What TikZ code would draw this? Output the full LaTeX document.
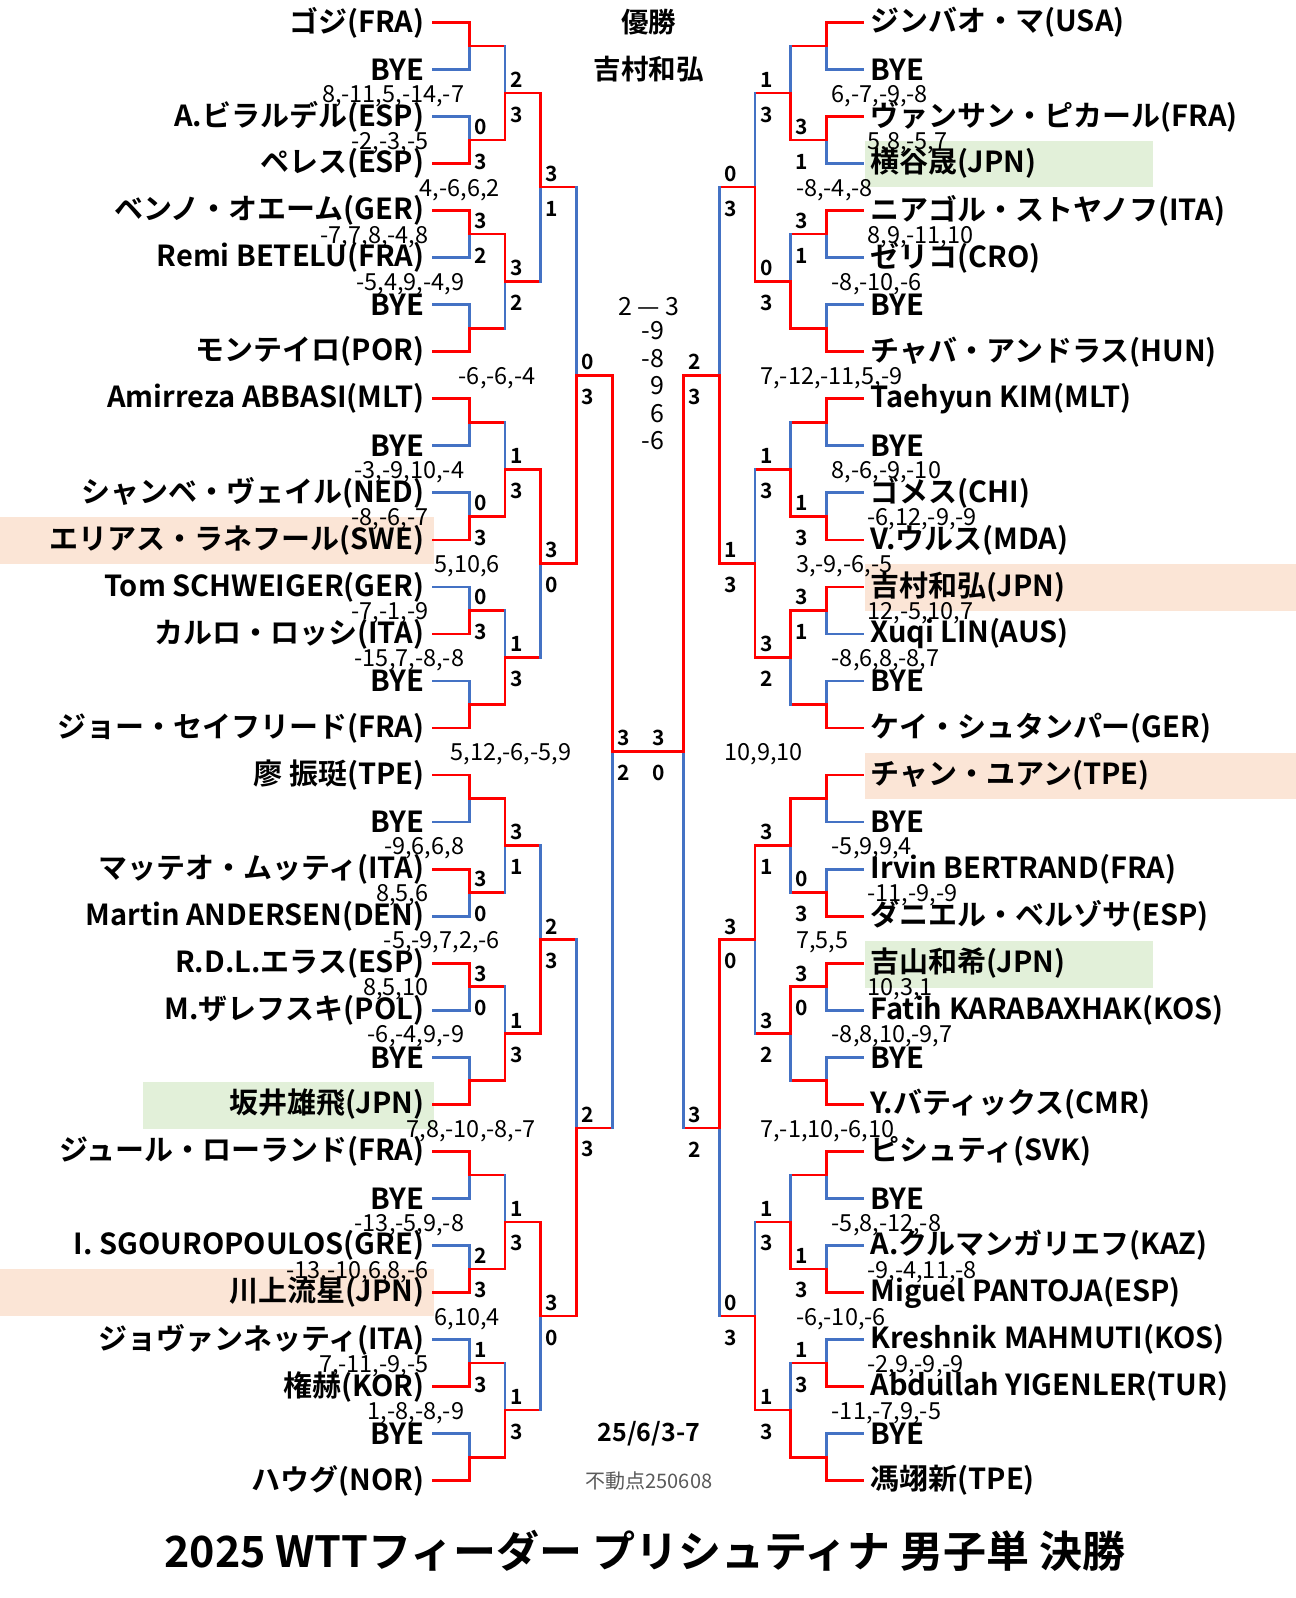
\documentclass[tikz,border=0pt]{standalone}
\usepackage{fontspec}
\setmainfont{Noto Sans CJK JP}[BoldFont={Noto Sans CJK JP Bold}]
\usetikzlibrary{calc}

\definecolor{winred}{HTML}{FF0000}
\definecolor{loseblue}{HTML}{4472C4}
\definecolor{hlorange}{HTML}{FBE5D6}
\definecolor{hlgreen}{HTML}{E2F0D9}

\tikzset{
  win/.style={draw=winred, line width=2.7pt, line cap=rect},
  lose/.style={draw=loseblue, line width=2.7pt, line cap=rect},
  lname/.style={anchor=east, inner sep=0pt, font=\bfseries\fontsize{29}{29}\selectfont},
  rname/.style={anchor=west, inner sep=0pt, font=\bfseries\fontsize{29}{29}\selectfont},
  setno/.style={inner sep=0pt, font=\bfseries\fontsize{21}{21}\selectfont},
  games/.style={inner sep=0pt, font=\fontsize{23.5}{23.5}\selectfont},
}

% one match: side, round, index, winner (0 = upper, 1 = lower)
\newcommand{\drawmatch}[4]{%
  \pgfmathtruncatemacro\pr{#2-1}%
  \ifnum#4=0
    \pgfmathtruncatemacro\cw{2*#3}\pgfmathtruncatemacro\cl{2*#3+1}%
  \else
    \pgfmathtruncatemacro\cw{2*#3+1}\pgfmathtruncatemacro\cl{2*#3}%
  \fi
  \ifnum#2=1
    \draw[lose] (#1\pr-\cl) -| (#1#2-#3);
  \else
    \draw[win] (#1\pr-\cl) -- (#1\pr-\cl -| #1#2-#3);
    \draw[lose] (#1\pr-\cl -| #1#2-#3) -- (#1#2-#3);
  \fi
  \draw[win] (#1\pr-\cw) -| (#1#2-#3);
}

\begin{document}
\begin{tikzpicture}[x=1.0204pt,y=-1.0204pt]
\useasboundingbox (0,0) rectangle (1270.1,1566.1);

% highlighted players
\fill[hlorange] (0,507) rectangle (425,553);
\fill[hlorange] (0,1244) rectangle (425,1290);
\fill[hlgreen] (140,1060) rectangle (425,1106);
\fill[hlgreen] (848,138) rectangle (1130,183);
\fill[hlorange] (848,553) rectangle (1270.1,599);
\fill[hlorange] (848,738) rectangle (1270.1,783);
\fill[hlgreen] (848,922) rectangle (1130,968);

% players
\foreach \n [count=\i from 0] in {ゴジ(FRA),BYE,A.ビラルデル(ESP),ペレス(ESP),
  ベンノ・オエーム(GER),Remi BETELU(FRA),BYE,モンテイロ(POR),
  Amirreza ABBASI(MLT),BYE,シャンベ・ヴェイル(NED),エリアス・ラネフール(SWE),
  Tom SCHWEIGER(GER),カルロ・ロッシ(ITA),BYE,ジョー・セイフリード(FRA),
  廖 振珽(TPE),BYE,マッテオ・ムッティ(ITA),Martin ANDERSEN(DEN),
  R.D.L.エラス(ESP),M.ザレフスキ(POL),BYE,坂井雄飛(JPN),
  ジュール・ローランド(FRA),BYE,I. SGOUROPOULOS(GRE),川上流星(JPN),
  ジョヴァンネッティ(ITA),権赫(KOR),BYE,ハウグ(NOR)}{
  \node[lname] (lp\i) at (416,{22+46.1*\i}) {\n};
  \coordinate (l0-\i) at ([xshift=9pt]lp\i.east);
}
\foreach \n [count=\i from 0] in {ジンバオ・マ(USA),BYE,ヴァンサン・ピカール(FRA),横谷晟(JPN),
  ニアゴル・ストヤノフ(ITA),ゼリコ(CRO),BYE,チャバ・アンドラス(HUN),
  Taehyun KIM(MLT),BYE,ゴメス(CHI),V.ウルス(MDA),
  吉村和弘(JPN),Xuqi LIN(AUS),BYE,ケイ・シュタンパー(GER),
  チャン・ユアン(TPE),BYE,Irvin BERTRAND(FRA),ダニエル・ベルゾサ(ESP),
  吉山和希(JPN),Fatih KARABAXHAK(KOS),BYE,Y.バティックス(CMR),
  ピシュティ(SVK),BYE,A.クルマンガリエフ(KAZ),Miguel PANTOJA(ESP),
  Kreshnik MAHMUTI(KOS),Abdullah YIGENLER(TUR),BYE,馮翊新(TPE)}{
  \node[rname] (rp\i) at (853,{22+46.1*\i}) {\n};
  \coordinate (r0-\i) at ([xshift=-8pt]rp\i.west);
}

% match points
\foreach \r in {1,...,5}{
  \pgfmathtruncatemacro\nm{2^(5-\r)-1}
  \foreach \k in {0,...,\nm}{
    \pgfmathsetmacro\yy{22+46.1*(\k*2^\r+(2^\r-1)/2)}
    \coordinate (l\r-\k) at ({425+35*\r},\yy);
    \coordinate (r\r-\k) at ({845-35*\r},\yy);
  }
}

% left half
\foreach \w [count=\k from 0] in {0,1,0,1,0,1,1,1,0,0,0,1,0,1,1,1} \drawmatch{l}{1}{\k}{\w};
\foreach \w [count=\k from 0] in {1,0,1,1,0,1,1,1} \drawmatch{l}{2}{\k}{\w};
\foreach \w [count=\k from 0] in {0,0,1,0} \drawmatch{l}{3}{\k}{\w};
\foreach \w [count=\k from 0] in {1,1} \drawmatch{l}{4}{\k}{\w};
\drawmatch{l}{5}{0}{0};
% right half
\foreach \w [count=\k from 0] in {0,0,0,1,0,1,0,1,0,1,0,1,0,1,1,1} \drawmatch{r}{1}{\k}{\w};
\foreach \w [count=\k from 0] in {1,1,1,0,0,0,1,1} \drawmatch{r}{2}{\k}{\w};
\foreach \w [count=\k from 0] in {1,1,0,1} \drawmatch{r}{3}{\k}{\w};
\foreach \w [count=\k from 0] in {1,0} \drawmatch{r}{4}{\k}{\w};
\drawmatch{r}{5}{0}{0};
% final
\draw[win] (l5-0) -- (r5-0);

% set scores and game scores, left
\foreach \r/\k/\a/\b/\g in {1/1/0/3/{-2,-3,-5},1/2/3/2/{-7,7,8,-4,8},1/5/0/3/{-8,-6,-7},
  1/6/0/3/{-7,-1,-9},1/9/3/0/{8,5,6},1/10/3/0/{8,5,10},1/13/2/3/{-13,-10,6,8,-6},
  1/14/1/3/{7,-11,-9,-5},2/0/2/3/{8,-11,5,-14,-7},2/1/3/2/{-5,4,9,-4,9},
  2/2/1/3/{-3,-9,10,-4},2/3/1/3/{-15,7,-8,-8},2/4/3/1/{-9,6,6,8},2/5/1/3/{-6,-4,9,-9},
  2/6/1/3/{-13,-5,9,-8},2/7/1/3/{1,-8,-8,-9},3/0/3/1/{4,-6,6,2},3/1/3/0/{5,10,6},
  3/2/2/3/{-5,-9,7,2,-6},3/3/3/0/{6,10,4},4/0/0/3/{-6,-6,-4},4/1/2/3/{7,8,-10,-8,-7},
  5/0/3/2/{5,12,-6,-5,9}}{
  \node[setno] (ls\r-\k-a) at ($(l\r-\k)+(11,-13)$) {\a};
  \node[setno] (ls\r-\k-b) at ($(l\r-\k)+(11,21)$) {\b};
  \node[games,anchor=base east] (lg\r-\k) at ($(l\r-\k)+(-40,9)$) {\g};
}
% set scores and game scores, right
\foreach \r/\k/\a/\b/\g in {1/1/3/1/{5,8,-5,7},1/2/3/1/{8,9,-11,10},1/5/1/3/{-6,12,-9,-9},
  1/6/3/1/{12,-5,10,7},1/9/0/3/{-11,-9,-9},1/10/3/0/{10,3,1},1/13/1/3/{-9,-4,11,-8},
  1/14/1/3/{-2,9,-9,-9},2/0/1/3/{6,-7,-9,-8},2/1/0/3/{-8,-10,-6},2/2/1/3/{8,-6,-9,-10},
  2/3/3/2/{-8,6,8,-8,7},2/4/3/1/{-5,9,9,4},2/5/3/2/{-8,8,10,-9,7},2/6/1/3/{-5,8,-12,-8},
  2/7/1/3/{-11,-7,9,-5},3/0/0/3/{-8,-4,-8},3/1/1/3/{3,-9,-6,-5},3/2/3/0/{7,5,5},
  3/3/0/3/{-6,-10,-6},4/0/2/3/{7,-12,-11,5,-9},4/1/3/2/{7,-1,10,-6,10},
  5/0/3/0/{10,9,10}}{
  \node[setno] (rs\r-\k-a) at ($(r\r-\k)+(-24,-13)$) {\a};
  \node[setno] (rs\r-\k-b) at ($(r\r-\k)+(-24,21)$) {\b};
  \node[games,anchor=base west] (rg\r-\k) at ($(r\r-\k)+(40,9)$) {\g};
}

% centre texts
\node[font=\bfseries\fontsize{27.5}{27.5}\selectfont] (champ) at (636,22) {優勝};
\node[font=\bfseries\fontsize{27.5}{27.5}\selectfont] (champname) at (636,68) {吉村和弘};
\node[games,font=\fontsize{25}{25}\selectfont] (final) at (636,300) {2 — 3};
\foreach \g [count=\i from 0] in {-9,-8,9,6,-6}
  \node[games,anchor=east,font=\fontsize{25}{25}\selectfont] (fg\i) at (651,{324+27*\i}) {\g};
\node[font=\bfseries\fontsize{25}{25}\selectfont] (date) at (636,1405) {25/6/3-7};
\node[font=\fontsize{20}{20}\selectfont, text=black!65] (stamp) at (636,1451) {不動点250608};
\node[font=\bfseries\fontsize{43}{43}\selectfont] (title) at (632,1520)
  {2025 WTTフィーダー プリシュティナ 男子単 決勝};
\end{tikzpicture}
\end{document}
